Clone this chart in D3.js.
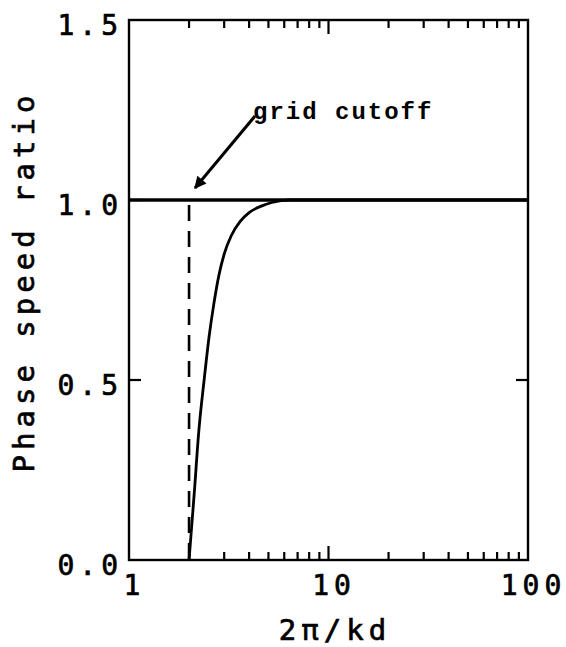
<!DOCTYPE html>
<html>
<head>
<meta charset="utf-8">
<script src="https://cdn.jsdelivr.net/npm/d3@7"></script>
<style>
  html, body { margin: 0; padding: 0; background: #fff; }
  svg { display: block; }
  .plot-font { font-family: "DejaVu Sans Mono", monospace; fill: #000; stroke: #000; stroke-width: 0.7; }
  .note-font { font-family: "Liberation Mono", "Courier New", monospace; fill: #000; }
</style>
</head>
<body>
<svg id="chart" width="566" height="647"></svg>
<script>
// Wavelength in grid spacings (2π/kd) and the phase speed ratio of the discrete scheme
const wavelength = [2.0, 2.12, 2.24, 2.38, 2.52, 2.66, 2.82, 3.0, 3.25, 3.6, 4.0, 4.6, 5.2, 6.4, 10, 100];
const speedRatio = [0.0, 0.18, 0.36, 0.50, 0.62, 0.71, 0.79, 0.85, 0.90, 0.94, 0.965, 0.983, 0.993, 1.0, 1.0, 1.0];

// Exact (continuous) phase speed ratio and the grid cutoff wavelength
const exactRatio = 1.0;
const gridCutoff = 2;

// Axis ticks
const xMajorTicks = [1, 10, 100];
const xMinorTicks = [2, 3, 4, 5, 6, 7, 8, 9, 20, 30, 40, 50, 60, 70, 80, 90];
const yTicks = [0.0, 0.5, 1.0, 1.5];
const yTickLabels = ["0.0", "0.5", "1.0", "1.5"];

const xTitle = "2\u03c0/kd";
const yTitle = "Phase speed ratio";
const noteText = "grid cutoff";

const plotLeft = 129, plotRight = 528, plotTop = 20, plotBottom = 560;

const svg = d3.select("#chart");

const x = d3.scaleLog().domain([1, 100]).range([plotLeft, plotRight]);
const y = d3.scaleLinear().domain([0, 1.5]).range([plotBottom, plotTop]);

// Frame
svg.append("rect")
  .attr("x", plotLeft).attr("y", plotTop)
  .attr("width", plotRight - plotLeft).attr("height", plotBottom - plotTop)
  .attr("fill", "none").attr("stroke", "#000").attr("stroke-width", 2.4);

// Bottom and top log ticks, pointing inward
const ticksG = svg.append("g").attr("stroke", "#000").attr("stroke-width", 2.2);
xMinorTicks.forEach(v => {
  ticksG.append("line").attr("x1", x(v)).attr("x2", x(v)).attr("y1", plotBottom).attr("y2", plotBottom - 8);
  ticksG.append("line").attr("x1", x(v)).attr("x2", x(v)).attr("y1", plotTop).attr("y2", plotTop + 8);
});
xMajorTicks.slice(1, -1).forEach(v => {
  ticksG.append("line").attr("x1", x(v)).attr("x2", x(v)).attr("y1", plotBottom).attr("y2", plotBottom - 14);
  ticksG.append("line").attr("x1", x(v)).attr("x2", x(v)).attr("y1", plotTop).attr("y2", plotTop + 14);
});
// Left and right ticks, pointing inward
yTicks.slice(1, -1).forEach(v => {
  ticksG.append("line").attr("x1", plotLeft).attr("x2", plotLeft + 12).attr("y1", y(v)).attr("y2", y(v));
  ticksG.append("line").attr("x1", plotRight).attr("x2", plotRight - 12).attr("y1", y(v)).attr("y2", y(v));
});

// Tick labels
const spacing = 5;
svg.append("g").selectAll("text")
  .data(yTicks)
  .join("text")
  .attr("class", "plot-font")
  .attr("x", 118 + spacing)
  .attr("y", d => y(d) + 15)
  .attr("text-anchor", "end")
  .attr("font-size", 28)
  .attr("letter-spacing", spacing)
  .text((d, i) => yTickLabels[i]);

svg.append("g").selectAll("text")
  .data(xMajorTicks)
  .join("text")
  .attr("class", "plot-font")
  .attr("x", d => x(d) + spacing / 2 + 3)
  .attr("y", 595)
  .attr("text-anchor", "middle")
  .attr("font-size", 28)
  .attr("letter-spacing", spacing)
  .text(d => String(d));

// Axis titles
svg.append("text")
  .attr("class", "plot-font")
  .attr("x", (plotLeft + plotRight) / 2 + spacing / 2 + 4)
  .attr("y", 640)
  .attr("text-anchor", "middle")
  .attr("font-size", 29)
  .attr("letter-spacing", spacing)
  .text(xTitle);

svg.append("text")
  .attr("class", "plot-font")
  .attr("transform", `translate(34, ${279 + spacing / 2}) rotate(-90)`)
  .attr("text-anchor", "middle")
  .attr("font-size", 29)
  .attr("letter-spacing", spacing)
  .text(yTitle);

// Exact phase speed (ratio 1)
svg.append("line")
  .attr("x1", x(1)).attr("x2", x(100))
  .attr("y1", y(exactRatio)).attr("y2", y(exactRatio))
  .attr("stroke", "#000").attr("stroke-width", 3.4);

// Grid cutoff marker
svg.append("line")
  .attr("x1", x(gridCutoff)).attr("x2", x(gridCutoff))
  .attr("y1", y(exactRatio) + 5).attr("y2", y(0))
  .attr("stroke", "#000").attr("stroke-width", 2.6)
  .attr("stroke-dasharray", "16,10");

// Discrete phase speed curve
const line = d3.line()
  .x((d, i) => x(wavelength[i]))
  .y(d => y(d))
  .curve(d3.curveMonotoneX);
svg.append("path")
  .attr("d", line(speedRatio))
  .attr("fill", "none")
  .attr("stroke", "#000")
  .attr("stroke-width", 2.8)
  .attr("stroke-linejoin", "round");

// Annotation arrow
svg.append("defs").append("marker")
  .attr("id", "arrowhead")
  .attr("viewBox", "0 0 10 10")
  .attr("refX", 9).attr("refY", 5)
  .attr("markerWidth", 6).attr("markerHeight", 4)
  .attr("markerUnits", "strokeWidth")
  .attr("orient", "auto")
  .append("path")
  .attr("d", "M0,0 L10,5 L0,10 Z")
  .attr("fill", "#000");

svg.append("line")
  .attr("x1", 255).attr("y1", 116)
  .attr("x2", 195).attr("y2", 188)
  .attr("stroke", "#000").attr("stroke-width", 3)
  .attr("marker-end", "url(#arrowhead)");

svg.append("text")
  .attr("class", "note-font")
  .attr("x", 253)
  .attr("y", 119)
  .attr("font-size", 24)
  .attr("font-weight", "bold")
  .attr("letter-spacing", 2)
  .text(noteText);
</script>
</body>
</html>
